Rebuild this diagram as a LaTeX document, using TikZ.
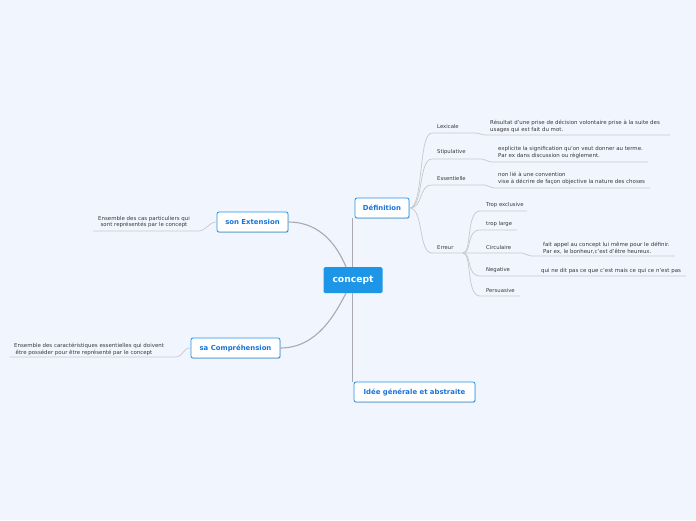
\documentclass[tikz,border=0pt]{standalone}
\usepackage{fontspec}
\setmainfont{DejaVu Sans}
\usetikzlibrary{shadows}
\definecolor{bg}{RGB}{241,245,253}
\definecolor{blu}{RGB}{30,150,232}
\definecolor{tblue}{RGB}{25,115,215}
\definecolor{lnc}{RGB}{200,200,206}
\definecolor{cnc}{RGB}{170,170,176}
\definecolor{txc}{RGB}{55,55,60}
\begin{document}
\begin{tikzpicture}[x=1pt,y=-1pt,
 mainbox/.style={fill=blu, rounded corners=1.5pt, text=white, font=\fontsize{9.2}{11}\bfseries\selectfont, minimum width=59pt, minimum height=26pt, inner sep=0},
 topicbox/.style={draw=blu, fill=white, line width=0.8pt, rounded corners=2pt, text=tblue, font=\fontsize{6.9}{8}\bfseries\selectfont, minimum height=20pt, inner sep=0, drop shadow={shadow xshift=0.6pt, shadow yshift=-0.9pt, fill=black, opacity=0.15}},
 leaf/.style={anchor=west, inner sep=0, text=txc, font=\fontsize{5.3}{6}\selectfont},
 note/.style={anchor=west, inner sep=0, align=left, text=txc, font=\fontsize{5.45}{6.9}\selectfont},
 lnk/.style={draw=lnc, line width=0.7pt},
 cnk/.style={draw=cnc, line width=1.1pt}]
\useasboundingbox[fill=bg] (0,0) rectangle (696,520);

% main topics
\node[mainbox] (concept) at (353,280) {concept};
\node[topicbox, minimum width=54pt] (def) at (382,208) {Définition};
\node[topicbox, minimum width=71pt] (ext) at (252.5,222) {son Extension};
\node[topicbox, minimum width=89pt] (comp) at (235.5,348) {sa Compréhension};
\node[topicbox, minimum width=121pt] (idee) at (414.5,392) {Idée générale et abstraite};

% main connectors
\draw[cnk] ([xshift=-0.5pt]concept.north) -- ([xshift=-0.5pt]concept.north |- def.south);
\draw[cnk] ([xshift=-0.5pt]concept.south) -- ([xshift=-0.5pt]concept.south |- idee.north);
\draw[cnk] (ext.east) .. controls (322,222) and (338,248) .. ([xshift=-7pt]concept.north);
\draw[cnk] (comp.east) .. controls (318,348) and (336,312) .. ([xshift=-7pt]concept.south);

% Définition children
\node[leaf] (lex) at (437,126.5) {Lexicale};
\node[leaf] (sti) at (437,152.5) {Stipulative};
\node[leaf] (ess) at (437,178.5) {Essentielle};
\node[leaf] (err) at (437,247.5) {Erreur};

\node[note] (lexn) at (490,126) {Résultat d'une prise de décision volontaire prise à la suite des\\usages qui est fait du mot.};
\node[note] (stin) at (498,152.5) {explicite la signification qu'on veut donner au terme.\\Par ex dans discussion ou règlement.};
\node[note] (essn) at (498,178.5) {non lié à une convention\\vise à décrire de façon objective la nature des choses};

\coordinate (lexE) at (670,135);
\coordinate (stiE) at (648,162);
\coordinate (essE) at (650,188);
\coordinate (errE) at (463,253);

\draw[lnk] (def.east) .. controls (424,208) and (418,133) .. (432,133) -- (476,133) .. controls (480,133) and (481,135) .. (486,135) -- (lexE);
\draw[lnk] (def.east) .. controls (424,208) and (418,159) .. (432,159) -- (482,159) .. controls (486,159) and (487,162) .. (492,162) -- (stiE);
\draw[lnk] (def.east) .. controls (424,208) and (418,185) .. (432,185) -- (485,185) .. controls (489,185) and (490,188) .. (495,188) -- (essE);
\draw[lnk] (def.east) .. controls (424,208) and (418,253) .. (432,253) -- (errE);

% Erreur children
\node[leaf] (tex) at (486,205.5) {Trop exclusive};
\node[leaf] (tla) at (486,224.5) {trop large};
\node[leaf] (cir) at (486,247.5) {Circulaire};
\node[leaf] (neg) at (486,270.5) {Negative};
\node[leaf] (per) at (486,290.5) {Persuasive};

\node[note] (cirn) at (543,248) {fait appel au concept lui même pour le définir.\\Par ex, le bonheur,c'est d'être heureux.};
\node[leaf, font=\fontsize{5.45}{6.9}\selectfont] (negn) at (541,270.5) {qui ne dit pas ce que c'est mais ce qui ce n'est pas};

\coordinate (texE) at (527,211);
\coordinate (tlaE) at (517,230);
\coordinate (cirE) at (675,256);
\coordinate (negE) at (686,276);
\coordinate (perE) at (520,296);

\draw[lnk] (errE) .. controls (472,253) and (466,211) .. (480,211) -- (texE);
\draw[lnk] (errE) .. controls (472,253) and (466,230) .. (480,230) -- (tlaE);
\draw[lnk] (errE) -- (522,253) .. controls (526,253) and (527,256) .. (532,256) -- (cirE);
\draw[lnk] (errE) .. controls (472,253) and (466,276) .. (480,276) -- (negE);
\draw[lnk] (errE) .. controls (472,253) and (466,296) .. (480,296) -- (perE);

% left notes
\node[note, anchor=center, align=center] (extn) at (144,222) {Ensemble des cas particuliers qui\\sont représentés par le concept};
\node[note] (compn) at (14,349) {Ensemble des caractéristiques essentielles qui doivent\\\hspace{1.5pt}être posséder pour être représenté par le concept};
\coordinate (extE) at (93,231);
\coordinate (compE) at (10,357);
\draw[lnk] (ext.west) .. controls (208,222) and (207,231) .. (198,231) -- (extE);
\draw[lnk] (comp.west) .. controls (182,348) and (184,357) .. (175,357) -- (compE);
\end{tikzpicture}
\end{document}
